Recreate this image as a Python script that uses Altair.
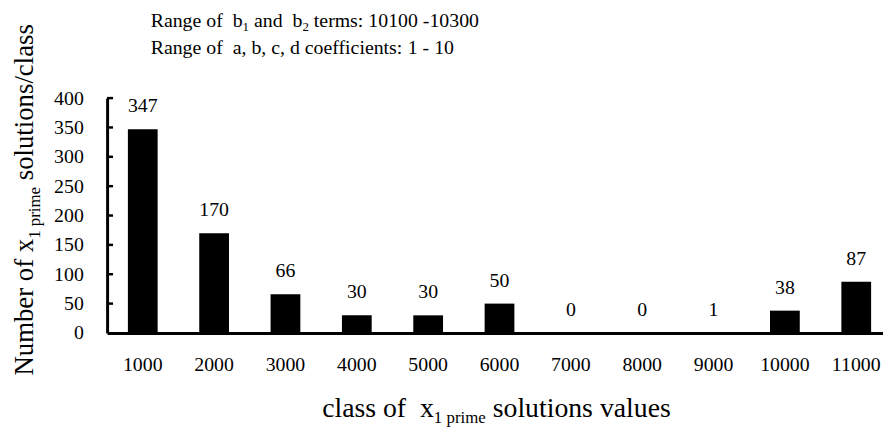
import altair as alt
import pandas as pd

# ---- data ----
classes = ["1000", "2000", "3000", "4000", "5000", "6000",
           "7000", "8000", "9000", "10000", "11000"]
counts = [347, 170, 66, 30, 30, 50, 0, 0, 1, 38, 87]
y_tick_values = [0, 50, 100, 150, 200, 250, 300, 350, 400]
inner_ticks = [50, 100, 150, 200, 250, 300, 350, 400]

# rich-text pieces: (text, role) where role is "main" or "sub"
note_line1 = [("Range of  b", "main"), ("1", "sub"), (" and  b", "main"),
              ("2", "sub"), (" terms: 10100 -10300", "main")]
note_line2 = [("Range of  a, b, c, d coefficients: 1 - 10", "main")]
x_title = [("class of  x", "main"), ("1 prime", "sub"), (" solutions values", "main")]
y_title = [("Number of x", "main"), ("1 prime", "sub"), (" solutions/class", "main")]

FONT = "Liberation Serif"

# Times / Liberation Serif advance widths (per 1000 em)
CW = {' ': 250, 'a': 444, 'b': 500, 'c': 444, 'd': 500, 'e': 444, 'f': 333,
      'g': 500, 'h': 500, 'i': 278, 'l': 278, 'm': 778, 'n': 500, 'o': 500,
      'p': 500, 'r': 333, 's': 389, 't': 278, 'u': 500, 'v': 500, 'x': 500,
      'R': 667, 'N': 722, ':': 278, ',': 250, '-': 333, '/': 278}


def tw(s, size):
    return sum(CW.get(c, 500) for c in s) * size / 1000.0


def place(segments, x0, y0, main, sub, shift, vertical=False):
    rows = []
    cur = 0.0
    for text, role in segments:
        size = main if role == "main" else sub
        off = 0 if role == "main" else shift
        i = 0
        while i < len(text):
            if text[i] == ' ':
                cur += tw(' ', size)
                i += 1
                continue
            j = i
            while j < len(text) and text[j] != ' ':
                j += 1
            word = text[i:j]
            if vertical:
                rows.append(dict(px=x0 + off, py=y0 - cur, t=word, s=size, a=270))
            else:
                rows.append(dict(px=x0 + cur, py=y0 + off, t=word, s=size, a=0))
            cur += tw(word, size)
            i = j
    return rows


pieces = (place(note_line1, 44, -72, 20, 13, 4)
          + place(note_line2, 44, -44, 20, 13, 4)
          + place(x_title, 217, 322, 28, 17, 6)
          + place(y_title, -75, 280, 27, 17, 7, vertical=True))

df = pd.DataFrame({"cls": classes, "n": counts})
ticks_df = pd.DataFrame({"n": inner_ticks})
one = pd.DataFrame({"k": [0]})

x_scale = alt.Scale(range=[0, 792], paddingInner=0.583, paddingOuter=0.2915)
y_scale = alt.Scale(domain=[0, 400], nice=False)
x_axis = alt.Axis(title=None, ticks=False, labelAngle=0, labelFont=FONT,
                  labelFontSize=20, labelColor="black", labelPadding=22,
                  domainColor="black", domainWidth=3, grid=False)
y_axis = alt.Axis(title=None, values=y_tick_values, ticks=False, grid=False,
                  labelFont=FONT, labelFontSize=20, labelColor="black",
                  labelPadding=24, domainColor="black", domainWidth=3)

bars = alt.Chart(df).mark_bar(color="black").encode(
    x=alt.X("cls:N", sort=classes, scale=x_scale, axis=x_axis),
    y=alt.Y("n:Q", scale=y_scale, axis=y_axis),
)

labels = alt.Chart(df).mark_text(font=FONT, fontSize=20, color="black",
                                 baseline="alphabetic", dy=-17).encode(
    x=alt.X("cls:N", sort=classes, scale=x_scale, axis=x_axis),
    y=alt.Y("n:Q", scale=y_scale, axis=y_axis),
    text="n:Q",
)

tick_marks = alt.Chart(ticks_df).mark_rule(color="black", strokeWidth=2.5).encode(
    x=alt.value(0), x2=alt.value(6),
    y=alt.Y("n:Q", scale=y_scale, axis=y_axis),
)

layers = [bars, labels, tick_marks]
for p in pieces:
    layers.append(
        alt.Chart(one).mark_text(font=FONT, color="black", align="left",
                                 baseline="alphabetic", fontSize=p["s"],
                                 angle=p["a"], text=p["t"]).encode(
            x=alt.value(p["px"]), y=alt.value(p["py"]))
    )

chart = alt.layer(*layers).properties(
    width=775, height=237,
    autosize=alt.AutoSizeParams(type="none"),
    padding={"left": 100, "top": 89, "right": 8, "bottom": 95},
).configure(font=FONT, background="white").configure_view(stroke=None)

chart.save("out.html", embed_options={"renderer": "svg", "actions": False})
